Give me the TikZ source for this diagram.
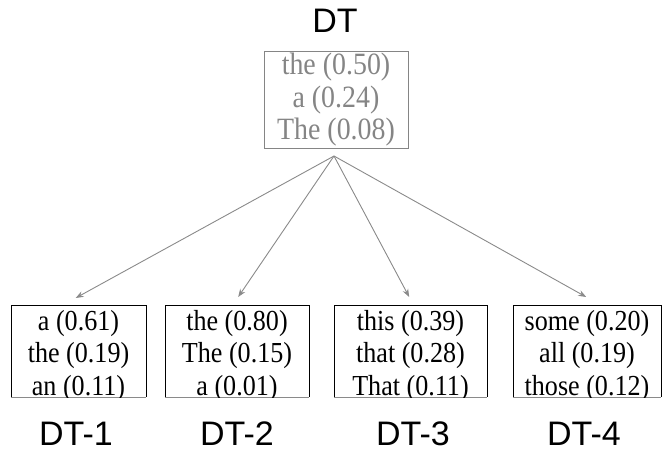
\documentclass[tikz,border=0pt]{standalone}
\usepackage{fontspec}
\setmainfont{Liberation Serif}
\newfontfamily\labelfont{Liberation Sans}
\usetikzlibrary{arrows.meta}
\definecolor{topgray}{HTML}{858585}
\definecolor{arrowgray}{HTML}{8A8A8A}
\newcommand{\threelines}[4]{\scalebox{0.9}[1]{\fontsize{#1}{32.5}\selectfont\begin{tabular}{@{}c@{}}#2\\#3\\#4\end{tabular}}}
\tikzset{
  titlelabel/.style={font=\labelfont\fontsize{34}{40}\selectfont, anchor=base, inner sep=0pt, text depth=0pt},
  frame/.style={draw=none, minimum width=#1, minimum height=92pt, inner sep=0pt, anchor=north west},
  toptext/.style={text=topgray, inner sep=0pt},
  bottext/.style={inner sep=0pt},
  conn/.style={draw=arrowgray, line width=0.9pt, -{Stealth[length=8pt,width=6pt]}}
}
\begin{document}
\begin{tikzpicture}[x=1pt,y=-1pt]
\useasboundingbox (0,0) rectangle (662,452);
% top
\node[titlelabel] (dtlab) at (335,33) {DT};
\node[draw=topgray, line width=0.8pt, minimum width=144pt, minimum height=97pt, inner sep=0pt, anchor=north west] (topbox) at (264,51) {};
\node[toptext] (toptxt) at (336,101) {\threelines{31}{the (0.50)}{a (0.24)}{The (0.08)}};
\coordinate (hub) at (334,156);
% bottom frames
\node[frame=135pt] (b1) at (11,305) {};
\node[frame=144pt] (b2) at (165,305) {};
\node[frame=153pt] (b3) at (334,305) {};
\node[frame=148pt] (b4) at (513,305) {};
\foreach \b in {b1,b2,b3,b4}{
  \draw[line width=0.8pt] (\b.south west) -- (\b.north west) -- (\b.north east) -- (\b.south east);
  \draw[line width=0.8pt, draw=arrowgray] (\b.south west) -- (\b.south east);
}
\begin{scope}
\clip (0,305) rectangle (662,397);
\node[bottext] (t1) at (78.5,356) {\threelines{29}{a (0.61)}{the (0.19)}{an (0.11)}};
\node[bottext] (t2) at (237,356) {\threelines{29}{the (0.80)}{The (0.15)}{a (0.01)}};
\node[bottext] (t3) at (410.5,356) {\threelines{29}{this (0.39)}{that (0.28)}{That (0.11)}};
\node[bottext] (t4) at (587,356) {\threelines{29}{some (0.20)}{all (0.19)}{those (0.12)}};
\end{scope}
% labels
\node[titlelabel] (l1) at (76,445) {DT-1};
\node[titlelabel] (l2) at (237,445) {DT-2};
\node[titlelabel] (l3) at (413,445) {DT-3};
\node[titlelabel] (l4) at (584,445) {DT-4};
% connectors
\draw[conn] (hub) -- ([xshift=-3pt,yshift=7pt]b1.north);
\draw[conn] (hub) -- ([xshift=1pt,yshift=8pt]b2.north);
\draw[conn] (hub) -- ([xshift=-1.5pt,yshift=8pt]b3.north);
\draw[conn] (hub) -- ([xshift=-1pt,yshift=8pt]b4.north);
\end{tikzpicture}
\end{document}
